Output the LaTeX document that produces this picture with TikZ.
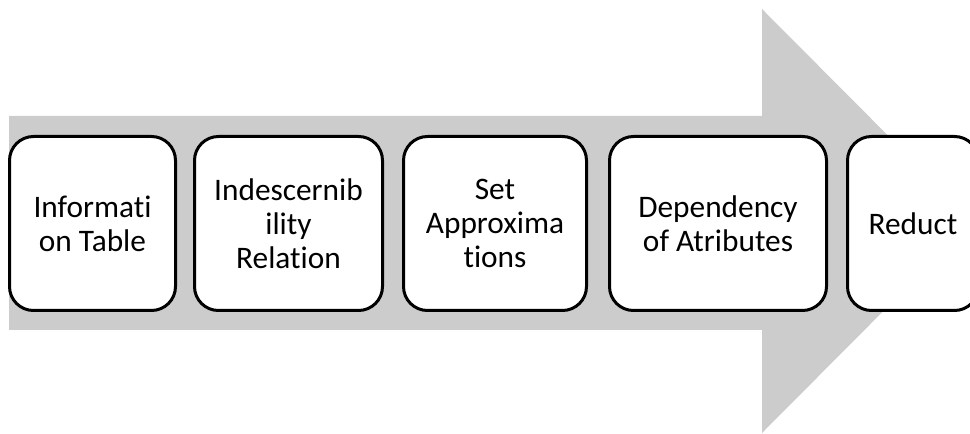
\documentclass[tikz,border=0pt]{standalone}
\usepackage{fontspec}
\setmainfont[Ligatures=NoCommon]{Carlito}
\definecolor{arrowgray}{RGB}{204,204,204}
\begin{document}
\begin{tikzpicture}[x=0.75pt, y=-0.75pt, font=\fontsize{23.5}{25.5}\selectfont,
    every node/.style={minimum height=130.5pt, inner sep=0pt, outer sep=0pt, align=center},
    stage/.style={draw=black, fill=white, line width=2.25pt, rounded corners=18pt}]
    \useasboundingbox (0, 0) rectangle (970, 434);

    % big gray arrow behind the stages
    \fill[arrowgray] (9, 116) -- (762, 116) -- (762, 9) -- (973, 221)
        -- (762, 433) -- (762, 330) -- (9, 330) -- cycle;

    \node[stage, minimum width=124.5pt] (info) at (92.5, 223.5) {Informati\\on Table};
    \node[stage, minimum width=141pt] (indisc) at (288.5, 223.5) {Indescernib\\ility\\Relation};
    \node[stage, minimum width=137.25pt] (approx) at (495, 223.5) {Set\\Approxima\\tions};
    \node[stage, minimum width=162.75pt] (depend) at (718, 223.5) {Dependency\\of Atributes};
    \node[stage, minimum width=98.25pt] (reduct) at (913, 223.5) {Reduct};
\end{tikzpicture}
\end{document}
